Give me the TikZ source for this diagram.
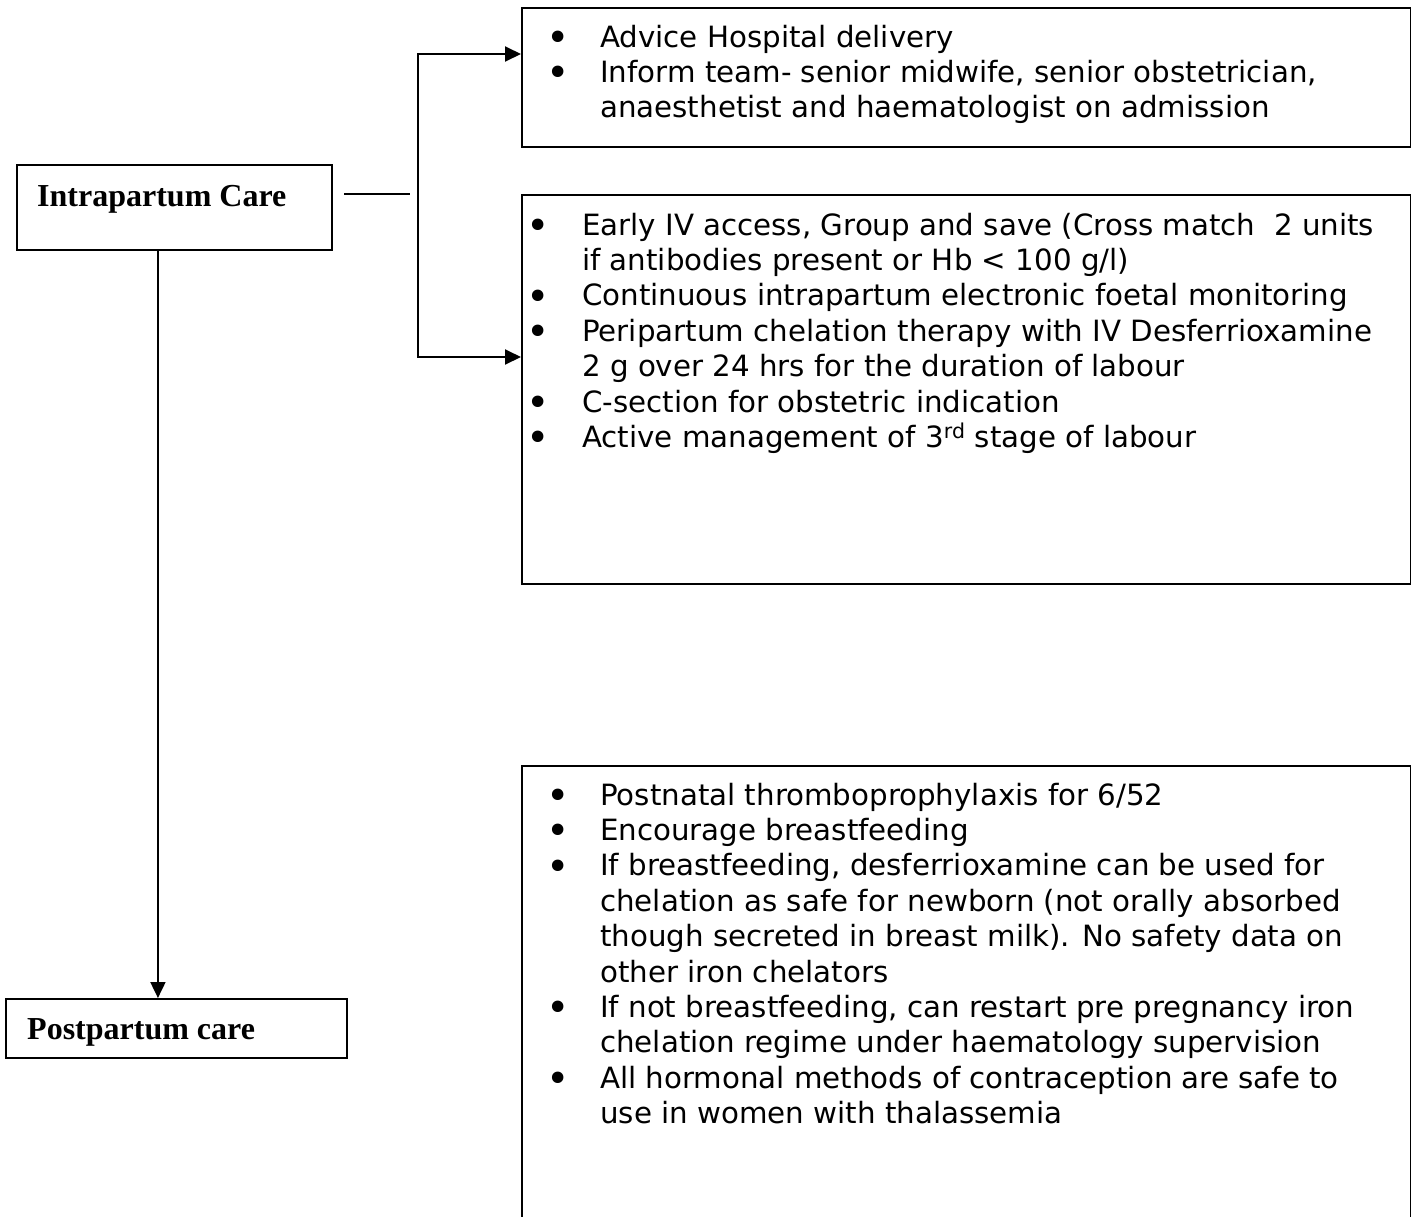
\documentclass[tikz,border=0pt]{standalone}
\usepackage{fontspec}
\usepackage{graphicx}
\setmainfont{Liberation Serif}
\newfontfamily\verd{DejaVu Sans}
\usetikzlibrary{arrows.meta}
\tikzset{
  boxline/.style={draw=black, line width=1.9pt, rectangle, inner sep=0pt, anchor=north west},
  conn/.style={draw=black, line width=1.9pt},
  arr/.style={conn, -{Triangle[length=16pt,width=15pt]}},
  blist/.style={inner sep=0pt, anchor=base west, font=\verd\fontsize{29.3}{35.4}\selectfont},
  lab/.style={inner sep=0pt, anchor=base west, font=\bfseries\fontsize{32}{38}\selectfont},
}
\newcommand{\bitem}[1]{\makebox[#1][l]{\makebox[0pt]{\raisebox{-4.5pt}[0pt][0pt]{\scalebox{1.35}{•}}}}}
\begin{document}
\begin{tikzpicture}[x=1pt,y=-1pt]
\clip (0,0) rectangle (1411,1216);
\fill[white] (0,0) rectangle (1411,1216);
% boxes
\node[boxline, minimum width=315pt, minimum height=85pt] (ip) at (16,164) {};
\node[boxline, minimum width=341pt, minimum height=59pt] (pp) at (5,998) {};
\node[boxline, minimum width=889pt, minimum height=139pt] (tb) at (521,7) {};
\node[boxline, minimum width=889pt, minimum height=389pt] (mb) at (521,194) {};
\node[boxline, minimum width=889pt, minimum height=480pt] (bb) at (521,765) {};
% labels
\node[lab] (ipt) at (37,206) {Intrapartum Care};
\node[lab] (ppt) at (27,1039) {Postpartum care};
% lists
\node[blist] (tbt) at (558,47) {\begin{tabular}[t]{@{}l@{}}
\bitem{42pt}Advice Hospital delivery\\
\bitem{42pt}Inform team- senior midwife, senior obstetrician,\\
\hspace{42pt}anaesthetist and haematologist on admission
\end{tabular}};
\node[blist] (mbt) at (538,235) {\begin{tabular}[t]{@{}l@{}}
\bitem{44pt}Early IV access, Group and save (Cross match\ \ 2 units\\
\hspace{44pt}if antibodies present or Hb < 100 g/l)\\
\bitem{44pt}Continuous intrapartum electronic foetal monitoring\\
\bitem{44pt}Peripartum chelation therapy with IV Desferrioxamine\\
\hspace{44pt}2 g over 24 hrs for the duration of labour\\
\bitem{44pt}C-section for obstetric indication\\
\bitem{44pt}Active management of 3\textsuperscript{rd} stage of labour
\end{tabular}};
\node[blist] (bbt) at (558,805) {\begin{tabular}[t]{@{}l@{}}
\bitem{42pt}Postnatal thromboprophylaxis for 6/52\\
\bitem{42pt}Encourage breastfeeding\\
\bitem{42pt}If breastfeeding, desferrioxamine can be used for\\
\hspace{42pt}chelation as safe for newborn (not orally absorbed\\
\hspace{42pt}though secreted in breast milk). No safety data on\\
\hspace{42pt}other iron chelators\\
\bitem{42pt}If not breastfeeding, can restart pre pregnancy iron\\
\hspace{42pt}chelation regime under haematology supervision\\
\bitem{42pt}All hormonal methods of contraception are safe to\\
\hspace{42pt}use in women with thalassemia
\end{tabular}};
% connectors
\coordinate (h1) at (344,194);
\coordinate (h2) at (410,194);
\coordinate (j1) at (418,54);
\coordinate (j2) at (418,357);
\draw[conn] (h1) -- (h2);
\draw[arr] (j2) -- (j1) -- (j1 -| tb.west);
\draw[arr] (j1) -- (j2) -- (j2 -| mb.west);
\draw[arr] ([xshift=-16.5pt]ip.south) -- ([xshift=-16.5pt]ip.south |- pp.north);
\end{tikzpicture}
\end{document}
